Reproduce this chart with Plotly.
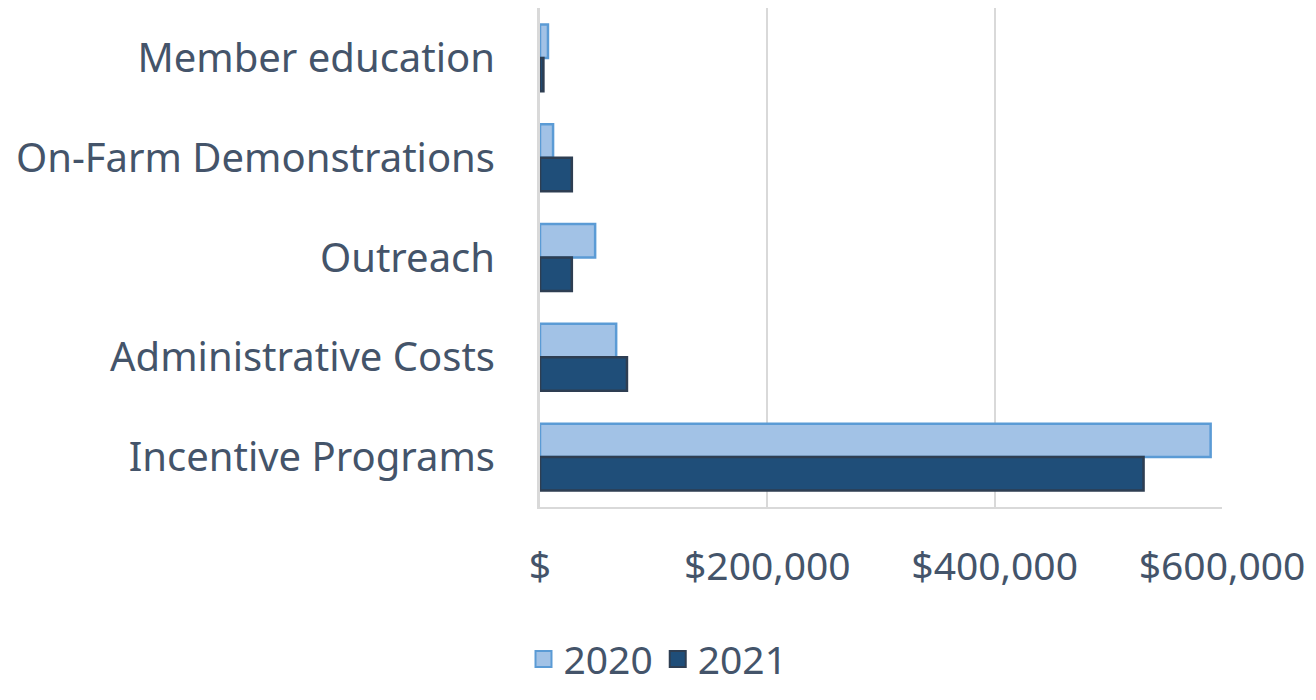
import plotly.graph_objects as go

categories = ['Member education', 'On-Farm Demonstrations', 'Outreach',
              'Administrative Costs', 'Incentive Programs']
values_2020 = [7000, 11500, 48500, 67000, 590000]
values_2021 = [3000, 28000, 28000, 76500, 531000]

tick_vals = [0, 200000, 400000, 600000]
tick_text = ['$', '$200,000', '$400,000', '$600,000']

text_color = '#44546A'
font_family = 'Noto Sans, Open Sans, sans-serif'

series = [
    ('2020', values_2020, '#A2C2E6', '#5B9BD5'),
    ('2021', values_2021, '#1F4E79', '#2E3E52'),
]

fig = go.Figure()
for name, vals, fill, edge in series:
    fig.add_trace(go.Bar(
        y=categories, x=vals, name=name, orientation='h', showlegend=False,
        marker=dict(color=fill, line=dict(color=edge, width=2.5)),
    ))
# legend-only entries so the swatches come out as larger squares
for name, vals, fill, edge in series:
    fig.add_trace(go.Scatter(
        x=[None], y=[None], name=name, mode='markers',
        marker=dict(symbol='square', size=22, color=fill,
                    line=dict(color=edge, width=2)),
    ))

fig.update_layout(
    width=1300, height=684,
    barmode='group', bargap=0.33, bargroupgap=0,
    plot_bgcolor='white', paper_bgcolor='white',
    margin=dict(l=532, r=86, t=0, b=185, autoexpand=False),
    font=dict(family=font_family, color=text_color, size=40),
    xaxis=dict(
        range=[0, 600000], tickvals=tick_vals, ticktext=tick_text,
        showgrid=True, gridcolor='#D9D9D9', gridwidth=2,
        showline=True, linecolor='#D9D9D9', linewidth=2, mirror=False,
        zeroline=False, ticks='', ticklabelstandoff=24,
        tickfont=dict(size=39, color=text_color), automargin=False,
    ),
    yaxis=dict(
        autorange='reversed', showgrid=False, zeroline=False,
        showline=True, linecolor='#D9D9D9', linewidth=3,
        ticks='', ticklabelstandoff=34,
        tickfont=dict(size=40, color=text_color), automargin=False,
    ),
    legend=dict(
        orientation='h', xref='container', yref='paper',
        x=0.5, xanchor='center', y=-0.305, yanchor='middle',
        itemsizing='trace', itemwidth=30,
        font=dict(size=39, color=text_color),
    ),
)

fig.write_html('out.html')
